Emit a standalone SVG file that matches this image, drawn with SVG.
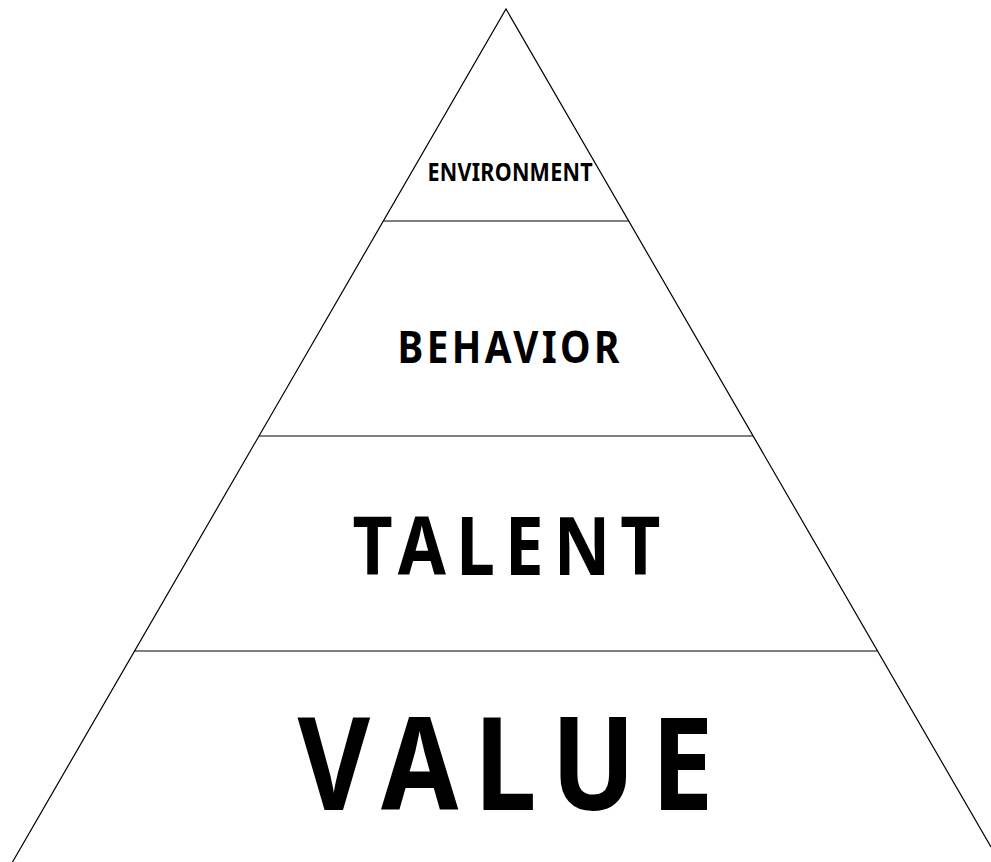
<svg xmlns="http://www.w3.org/2000/svg" width="991" height="862" viewBox="0 0 991 862">
  <style>
    .edge { stroke: #000; stroke-width: 1.2; fill: none; }
    .label { font-family: "Noto Sans", "Open Sans", "DejaVu Sans", sans-serif; font-weight: bold; fill: #000; text-anchor: middle; }
  </style>
  <rect width="991" height="862" fill="#fff"/>
  <!-- pyramid outline and tier dividers -->
  <g id="connectors">
    <polyline class="edge" points="12.5,862 506,9 991,847"/>
    <line class="edge" x1="383.4" y1="221" x2="628.6" y2="221"/>
    <line class="edge" x1="259" y1="436" x2="753" y2="436"/>
    <line class="edge" x1="134.6" y1="651" x2="877.4" y2="651"/>
  </g>
  <!-- labels are narrowed horizontally; textLength is in the narrowed units -->
  <g id="environment">
    <text class="label" transform="translate(510 181) scale(0.86 1)" font-size="25" textLength="192" lengthAdjust="spacing">ENVIRONMENT</text>
  </g>
  <g id="behavior">
    <text class="label" transform="translate(508.5 363) scale(0.86 1)" font-size="45" textLength="258" lengthAdjust="spacing">BEHAVIOR</text>
  </g>
  <g id="talent">
    <text class="label" transform="translate(506.5 575) scale(0.86 1)" font-size="81" textLength="358" lengthAdjust="spacing">TALENT</text>
  </g>
  <g id="value">
    <text class="label" transform="translate(505.5 810) scale(0.86 1)" font-size="130" textLength="484" lengthAdjust="spacing">VALUE</text>
  </g>
</svg>
